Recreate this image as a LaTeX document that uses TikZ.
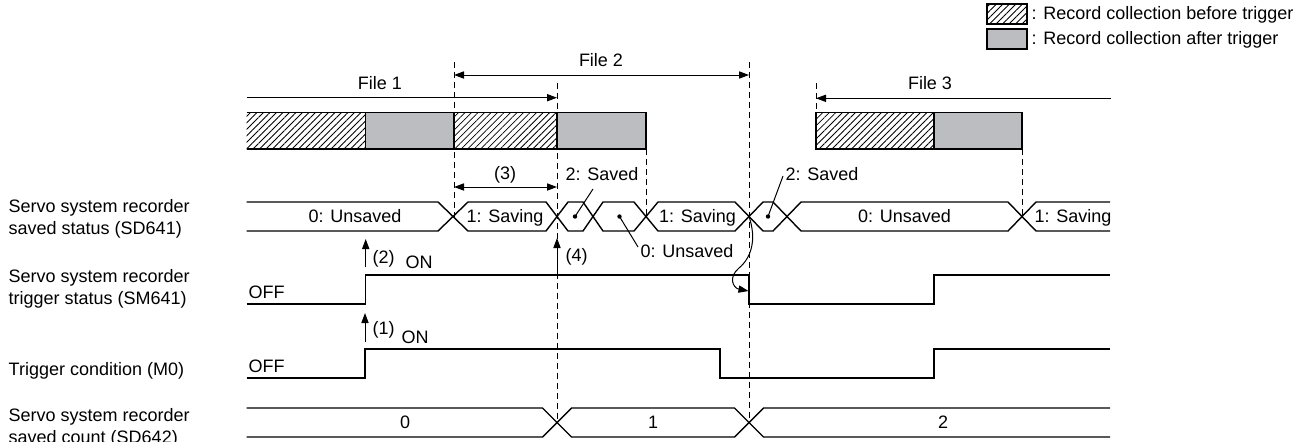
\documentclass[tikz,border=0pt]{standalone}
\usepackage{fontspec}
\setmainfont{Liberation Sans}
\usetikzlibrary{arrows.meta,patterns.meta}
\definecolor{recgray}{RGB}{188,189,192}

\begin{document}
\begin{tikzpicture}[x=0.5pt,y=-0.5pt,line width=0.7pt,>={Triangle[length=5pt,width=3.6pt]},
  every node/.style={font=\fontsize{9}{10.75}\selectfont,inner sep=0pt},
  guide/.style={line width=0.45pt,dash pattern=on 3pt off 2pt},
  pin/.style={line width=0.5pt,->},
  before/.style={pattern={Lines[angle=45,distance=2.3pt,line width=0.4pt]}},
  after/.style={fill=recgray}]
  \useasboundingbox (0,0) rectangle (1310,441);
  % legend
  \draw[before] (987,4) rectangle (1027,24);
  \draw[after] (987,29) rectangle (1027,49);
  \node[anchor=base west] (legpre) at (1031,19.5) {: Record collection before trigger};
  \node[anchor=base west] (legpost) at (1031,44.5) {: Record collection after trigger};
  % record files (bars)
  \fill[before] (246.7,112.7) rectangle (365.7,149);
  \draw[after] (365.7,112.7) rectangle (454,149);
  \draw[before] (454,112.7) rectangle (557,149);
  \draw[after] (557,112.7) rectangle (646,149);
  \draw (246.7,112.7) -- (365.7,112.7) (246.7,149) -- (365.7,149);
  \draw[before] (816,112.7) rectangle (934,149);
  \draw[after] (934,112.7) rectangle (1022,149);
  % guide lines
  \draw[guide] (454,62) -- (454,216.5);
  \draw[guide] (557,83) -- (557,422.5);
  \draw[guide] (646,149) -- (646,216.5);
  \draw[guide] (749,62) -- (749,422.5);
  \draw[guide] (816,83) -- (816,112.7);
  \draw[guide] (1022,149) -- (1022,216.5);
  % file ranges
  \coordinate (f1a) at (246.7,97.7); \coordinate (f1b) at (557,97.7);
  \coordinate (f2a) at (454,75); \coordinate (f2b) at (749,75);
  \coordinate (f3a) at (816,98.3); \coordinate (f3b) at (1111,98.3);
  \draw[pin] (f1a) -- (f1b); \node[anchor=base] (file1) at (380,89) {File 1};
  \draw[pin,<->] (f2a) -- (f2b); \node[anchor=base] (file2) at (601,66) {File 2};
  \draw[pin,<-] (f3a) -- (f3b); \node[anchor=base] (file3) at (930,89) {File 3};
  % signal names (base = last line)
  \node[anchor=base west,align=left] (nSD641) at (8,234) {Servo system recorder\\saved status (SD641)};
  \node[anchor=base west,align=left] (nSM641) at (8,304) {Servo system recorder\\trigger status (SM641)};
  \node[anchor=base west] (nM0) at (8,375) {Trigger condition (M0)};
  \node[anchor=base west,align=left] (nSD642) at (8,443) {Servo system recorder\\saved count (SD642)};
  % SD641 saved status
  \draw (246.7,202) -- (438,202) -- (453,216.5) -- (438,231) -- (246.7,231);
  \node[anchor=base] (s0) at (355,222) {0: Unsaved};
  \foreach \a/\ha/\b/\hb/\txt [count=\i] in {453/15/557/11/1: Saving,557/11/593/10/,593/10/646/12/,
      646/12/749/14/1: Saving,749/14/787/14/,787/14/1022/14/0: Unsaved}
    \draw (\a,216.5) -- (\a+\ha,202) -- (\b-\hb,202) -- (\b,216.5) -- (\b-\hb,231) -- (\a+\ha,231) -- cycle
      node[anchor=base] (s\i) at ({(\a+\b)/2},222) {\txt};
  \draw (1110,202) -- (1036,202) -- (1022,216.5) -- (1036,231) -- (1110,231);
  \node[anchor=base] (s7) at (1073,222) {1: Saving};
  \fill (575,216.5) coordinate (dotA) circle (2.2);
  \fill (619.5,216.5) coordinate (dotB) circle (2.2);
  \fill (768,216.5) coordinate (dotC) circle (2.2);
  \node[anchor=base] (saved1) at (602,180) {2: Saved};
  \node[anchor=base] (unsaved2) at (687,257) {0: Unsaved};
  \node[anchor=base] (saved2) at (822,180) {2: Saved};
  \draw[line width=0.5pt] (dotA) -- (593,189);
  \draw[line width=0.5pt] (dotB) -- (638,247);
  \draw[line width=0.5pt] (dotC) -- (783,176);
  % (3) saving period
  \draw[pin,<->] (f2a |- 0,187) coordinate (p3a) -- (f1b |- 0,187) coordinate (p3b);
  \node[anchor=base] (n3) at (505,179) {(3)};
  % SM641 trigger status
  \draw (246.7,304) -- (365.7,304) -- (365.7,275) -- (749,275) -- (749,304) -- (934,304) -- (934,275) -- (1110,275);
  \node[anchor=base west] (off1) at (248,298) {OFF};
  \node[anchor=base] (on1) at (419,268) {ON};
  \coordinate (up2a) at (365.7,267); \coordinate (up2b) at (365.7,239);
  \draw[pin] (up2a) -- (up2b); \node[anchor=base west] (n2) at (372,263) {(2)};
  \coordinate (up4a) at (557,275); \coordinate (up4b) at (557,238);
  \draw[pin] (up4a) -- (up4b); \node[anchor=base west] (n4) at (565,261) {(4)};
  \coordinate (cross) at (749,216.5); \coordinate (fall) at (748.5,291);
  \draw[pin] (cross) .. controls (757,240) and (751,258) .. (739,268) .. controls (728,277) and (733,288) .. (fall);
  % M0 trigger condition
  \draw (246.7,378) -- (365,378) -- (365,349) -- (720,349) -- (720,378) -- (934,378) -- (934,349) -- (1110,349);
  \node[anchor=base west] (off2) at (248,372) {OFF};
  \node[anchor=base] (on2) at (415,343) {ON};
  \coordinate (up1a) at (365,342); \coordinate (up1b) at (365,313);
  \draw[pin] (up1a) -- (up1b); \node[anchor=base west] (n1) at (372,334) {(1)};
  % SD642 saved count
  \draw (246.7,408) -- (542.5,408) -- (557,422.5) -- (542.5,437) -- (246.7,437);
  \draw (557,422.5) -- (571.5,408) -- (734.5,408) -- (749,422.5) -- (734.5,437) -- (571.5,437) -- cycle;
  \draw (1110,408) -- (763.5,408) -- (749,422.5) -- (763.5,437) -- (1110,437);
  \node[anchor=base] (c0) at (405,428) {0};
  \node[anchor=base] (c1) at (653,428) {1};
  \node[anchor=base] (c2) at (943,428) {2};
\end{tikzpicture}
\end{document}
